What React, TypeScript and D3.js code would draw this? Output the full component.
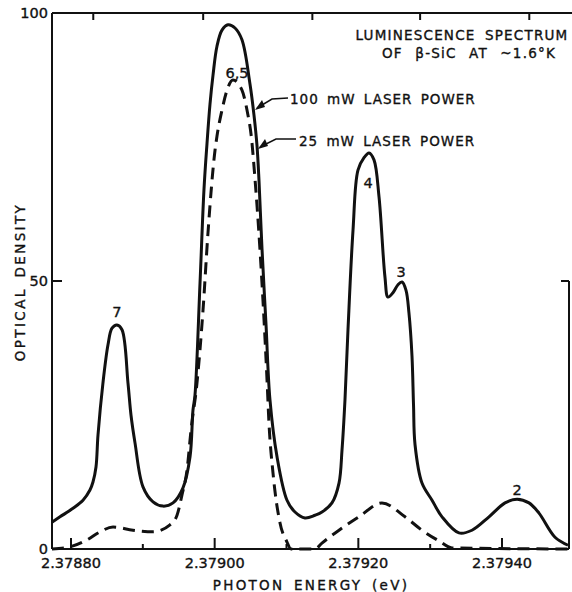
import React from "react";
import * as d3 from "d3";

// ---- data ----
// 100 mW laser power (solid)
const solidE = [
  2.3787735, 2.3787847, 2.3788028, 2.3788167, 2.3788264, 2.3788306, 2.3788348, 2.3788376,
  2.3788445, 2.3788515, 2.3788571, 2.378864, 2.378871, 2.3788793, 2.3788835, 2.3788891,
  2.3789002, 2.3789142, 2.3789281, 2.378942, 2.3789559, 2.3789657, 2.3789698, 2.3789726,
  2.3789796, 2.3789851, 2.3789893, 2.3789935, 2.3789977, 2.3790032, 2.3790102, 2.3790186,
  2.3790283, 2.379038, 2.3790491, 2.3790547, 2.3790589, 2.3790617, 2.3790659, 2.3790715,
  2.379077, 2.3790868, 2.3791007, 2.3791118, 2.3791257, 2.3791397, 2.3791494, 2.3791633,
  2.3791731, 2.3791773, 2.3791814, 2.3791856, 2.3791926, 2.3791995, 2.3792079, 2.3792149,
  2.3792218, 2.3792288, 2.3792371, 2.3792413, 2.3792482, 2.3792552, 2.3792608, 2.3792663,
  2.3792705, 2.3792747, 2.3792768, 2.3792789, 2.3792886, 2.3793026, 2.3793165, 2.3793401,
  2.3793582, 2.3793819, 2.3794042, 2.3794209, 2.3794376, 2.3794515, 2.3794738, 2.3794919,
];
const solidV = [
  5.0, 6.0, 7.6, 9.1, 11.0, 12.5, 15.3, 21.3,
  31.0, 38.1, 41.2, 41.8, 40.9, 31.0, 25.0, 19.8,
  11.6, 8.8, 8.0, 8.6, 11.4, 17.2, 25.9, 28.7,
  49.6, 67.0, 75.6, 83.0, 88.4, 93.8, 96.8, 97.8,
  97.2, 95.0, 86.8, 81.0, 75.3, 68.8, 56.0, 41.8,
  27.8, 17.2, 9.1, 6.9, 5.8, 6.3, 6.9, 8.6,
  12.3, 18.5, 27.8, 40.9, 59.5, 70.7, 73.0, 73.9,
  72.6, 65.7, 50.7, 47.0, 47.8, 49.3, 49.8, 48.3,
  44.0, 36.0, 27.0, 19.5, 12.3, 9.1, 6.0, 3.0,
  3.5, 6.0, 8.6, 9.3, 8.6, 6.7, 2.2, 0.7,
];

// 25 mW laser power (dashed)
const dashedE = [
  2.3787735, 2.3787986, 2.3788223, 2.3788404, 2.3788585, 2.3788863, 2.3789142, 2.3789378,
  2.3789476, 2.3789545, 2.3789615, 2.3789671, 2.3789754, 2.3789838, 2.3789907, 2.3790005,
  2.3790032, 2.3790102, 2.3790172, 2.3790255, 2.379038, 2.379045, 2.379052, 2.3790548,
  2.3790631, 2.3790729, 2.3790756, 2.3790812, 2.3790909, 2.3791007, 2.3791063, 2.3791397,
  2.3791494, 2.3791731, 2.3792009, 2.3792329, 2.379265, 2.3792886, 2.3793123, 2.3793304,
  2.3794919,
];
const dashedV = [
  0.0, 0.4, 1.7, 3.2, 4.1, 3.5, 3.2, 4.5,
  6.3, 10.1, 14.7, 22.2, 31.0, 44.6, 59.0, 74.4,
  77.0, 81.9, 85.6, 87.5, 85.6, 81.9, 75.7, 71.3,
  55.8, 31.5, 23.5, 14.2, 4.9, 1.3, 0.0, 0.0,
  1.1, 3.5, 6.0, 8.6, 6.0, 3.5, 1.5, 0.2,
  0.0,
];

const majorTicks = [2.3788, 2.379, 2.3792, 2.3794];
const minorTicks = [2.3789, 2.3791, 2.3793];
const tickLabels = ["2.37880", "2.37900", "2.37920", "2.37940"];
const topTicks = [2.378831, 2.378984, 2.379136, 2.379286, 2.379438];
const yTicks = [0, 50, 100];
const yTickLabels = ["0", "50", "100"];

const peakLabels = ["7", "6,5", "4", "3", "2"];
const peakE = [2.378864, 2.3790311, 2.3792135, 2.3792594, 2.3794209];
const peakV = [43.3, 87.9, 67.4, 50.7, 10.1];

export default function App() {
  const W = 572, H = 592;
  const left = 52, right = 569, top = 13, bottom = 549;
  const x = d3.scaleLinear().domain([2.3788, 2.3794]).range([71, 502]);
  const y = d3.scaleLinear().domain([0, 100]).range([bottom, top]);

  const solid = solidE.map((e, i) => [e, solidV[i]] as [number, number]);
  const dashed = dashedE.map((e, i) => [e, dashedV[i]] as [number, number]);
  const lineSmooth = d3
    .line<[number, number]>()
    .x((d) => x(d[0]))
    .y((d) => y(d[1]))
    .curve(d3.curveCatmullRom.alpha(0.5));
  const lineMono = d3
    .line<[number, number]>()
    .x((d) => x(d[0]))
    .y((d) => y(d[1]))
    .curve(d3.curveMonotoneX);

  const font = "'DejaVu Sans', sans-serif";
  const ink = "#111";
  const txt = { fill: ink, stroke: ink, strokeWidth: 0.35 };

  return (
    <svg
      width={W}
      height={H}
      style={{ position: "absolute", left: 0, top: 0, background: "#fff" }}
      fontFamily={font}
    >
      <rect width={W} height={H} fill="#fff" />
      {/* frame */}
      <g stroke={ink} strokeWidth={2} fill="none">
        <line x1={left} y1={top} x2={W} y2={top} />
        <line x1={left} y1={top} x2={left} y2={bottom} />
        <line x1={left} y1={bottom} x2={right} y2={bottom} />
        <line x1={right} y1={y(50)} x2={right} y2={bottom} />
        {majorTicks.map((t) => (
          <line key={"M" + t} x1={x(t)} x2={x(t)} y1={bottom} y2={bottom - 11} />
        ))}
        {minorTicks.map((t) => (
          <line key={"m" + t} x1={x(t)} x2={x(t)} y1={bottom} y2={bottom - 5} />
        ))}
        {topTicks.map((t) => (
          <line key={"t" + t} x1={x(t)} x2={x(t)} y1={top} y2={top + 7} />
        ))}
        <line x1={left} x2={left + 10} y1={y(50)} y2={y(50)} />
        <line x1={right} x2={right - 8} y1={y(50)} y2={y(50)} />
      </g>

      {/* curves */}
      <path d={lineMono(dashed) || ""} fill="none" stroke={ink} strokeWidth={3} strokeDasharray="12 7" />
      <path d={lineSmooth(solid) || ""} fill="none" stroke={ink} strokeWidth={3} strokeLinejoin="round" />

      {/* tick labels */}
      <g fontSize={14.5} textAnchor="middle" {...txt}>
        {majorTicks.map((t, i) => (
          <text key={"l" + t} x={x(t)} y={568}>
            {tickLabels[i]}
          </text>
        ))}
      </g>
      <g fontSize={14.5} textAnchor="end" {...txt}>
        {yTicks.map((t, i) => (
          <text key={"y" + t} x={left - 4} y={y(t) + 5}>
            {yTickLabels[i]}
          </text>
        ))}
      </g>

      {/* axis titles */}
      <text x={311} y={590} fontSize={13.5} letterSpacing={2.3} wordSpacing={3} textAnchor="middle" {...txt}>
        PHOTON ENERGY (eV)
      </text>
      <text
        transform="translate(25,282) rotate(-90)"
        fontSize={13.5}
        letterSpacing={2.4}
        wordSpacing={3}
        textAnchor="middle"
        {...txt}
      >
        OPTICAL DENSITY
      </text>

      {/* title */}
      <text x={462} y={40} fontSize={13.5} letterSpacing={1.2} wordSpacing={4} textAnchor="middle" {...txt}>
        LUMINESCENCE SPECTRUM
      </text>
      <text x={469} y={58} fontSize={13.5} letterSpacing={1.2} wordSpacing={7} textAnchor="middle" {...txt}>
        OF β-SiC AT ~1.6°K
      </text>

      {/* legend annotations with leaders */}
      <g stroke={ink} strokeWidth={1.5} fill="none">
        <polyline points="257,108 272,99 288,98" />
        <polyline points="260,147 276,139 296,139" />
      </g>
      <g fill={ink}>
        <polygon points="255,110 262,100 265,107" />
        <polygon points="258,149 265,139 268,146" />
      </g>
      <text x={290} y={104} fontSize={13.5} letterSpacing={1.0} wordSpacing={3} {...txt}>
        100 mW LASER POWER
      </text>
      <text x={299} y={146} fontSize={13.5} letterSpacing={1.0} wordSpacing={3} {...txt}>
        25 mW LASER POWER
      </text>

      {/* peak labels */}
      <g fontSize={14.5} textAnchor="middle" {...txt}>
        {peakLabels.map((p, i) => (
          <text key={p} x={x(peakE[i])} y={y(peakV[i])}>
            {p}
          </text>
        ))}
      </g>
    </svg>
  );
}
